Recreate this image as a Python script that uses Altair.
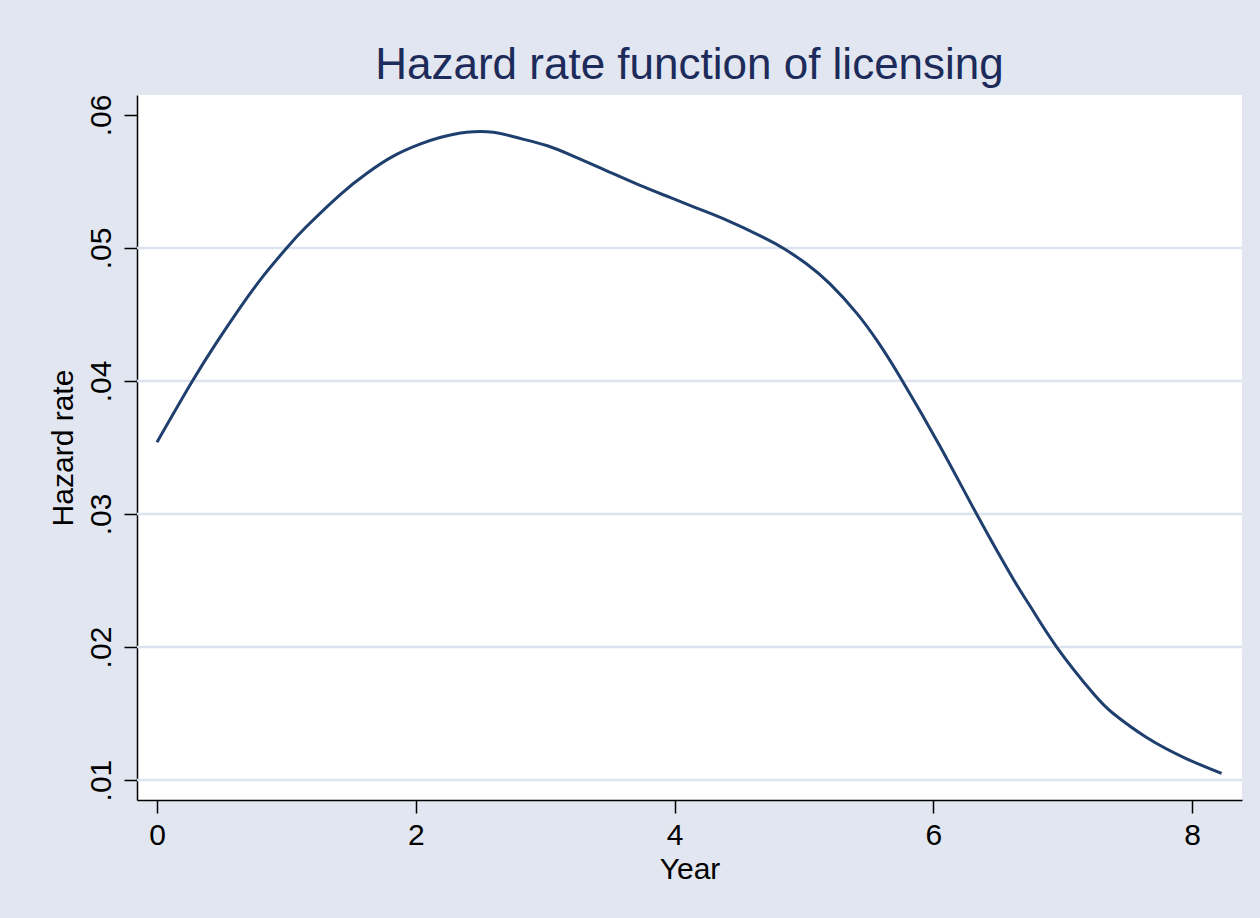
import altair as alt
import pandas as pd

# Hazard rate curve
years = [0.0, 0.268, 0.461, 0.641, 0.822, 1.002, 1.144, 1.414, 1.620, 1.826,
         2.032, 2.187, 2.393, 2.599, 2.780, 3.011, 3.217, 3.475, 3.733, 3.964,
         4.171, 4.376, 4.686, 4.853, 5.021, 5.201, 5.407, 5.574, 5.755, 6.051,
         6.334, 6.618, 6.746, 6.953, 7.236, 7.390, 7.648, 7.957, 8.227]
hazard = [0.0354, 0.0399, 0.0429, 0.0455, 0.0479, 0.0500, 0.0515, 0.0540, 0.0556, 0.0569,
          0.0578, 0.0583, 0.0587, 0.0587, 0.0583, 0.0577, 0.0569, 0.0558, 0.0547, 0.0538,
          0.0530, 0.0522, 0.0508, 0.0499, 0.0488, 0.0473, 0.0451, 0.0429, 0.0401, 0.0351,
          0.0300, 0.0251, 0.0231, 0.0200, 0.0165, 0.0150, 0.0132, 0.0116, 0.0105]

x_ticks = [0, 2, 4, 6, 8]
y_ticks = [0.01, 0.02, 0.03, 0.04, 0.05, 0.06]
grid_values = [0.01, 0.02, 0.03, 0.04, 0.05]

BG = "#E1E6F0"
GRID = "#DDE3EE"
LINE = "#1F3F6E"
TITLE = "#1C2B5A"
FONT = "Liberation Sans"

df = pd.DataFrame({"Year": years, "Hazard": hazard})
grid_df = pd.DataFrame({"Hazard": grid_values})

x_scale = alt.Scale(domain=[-0.1546, 8.385], nice=False, zero=False)
y_scale = alt.Scale(domain=[0.0085, 0.0615], nice=False, zero=False)

x_axis = alt.Axis(values=x_ticks, format="d", grid=False,
                  tickSize=13, tickColor="black", tickWidth=1.5,
                  domainColor="black", domainWidth=1.5,
                  labelFontSize=30, labelColor="black", labelFont=FONT,
                  labelPadding=7, titleFontSize=30, titleFont=FONT,
                  titleColor="black", titleFontWeight="normal",
                  titlePadding=4)

y_axis = alt.Axis(values=y_ticks, grid=False,
                  labelExpr="replace(format(datum.value, '.2f'), '0.', '.')",
                  labelAngle=270, labelAlign="center", labelBaseline="bottom",
                  tickSize=13, tickColor="black", tickWidth=1.5,
                  domainColor="black", domainWidth=1.5,
                  labelFontSize=30, labelColor="black", labelFont=FONT,
                  labelPadding=8, titleFontSize=30, titleFont=FONT,
                  titleColor="black", titleFontWeight="normal",
                  titlePadding=8)

grid = alt.Chart(grid_df).mark_rule(color=GRID, strokeWidth=2.5).encode(
    y=alt.Y("Hazard:Q", scale=y_scale, title="Hazard rate", axis=y_axis)
)

line = alt.Chart(df).mark_line(color=LINE, strokeWidth=3, interpolate="natural").encode(
    x=alt.X("Year:Q", scale=x_scale, title="Year", axis=x_axis),
    y=alt.Y("Hazard:Q", scale=y_scale, title="Hazard rate", axis=y_axis)
)

chart = alt.layer(grid, line).properties(
    width=1105,
    height=705,
    background=BG,
    padding={"left": 137, "top": 95, "right": 18, "bottom": 118},
    autosize=alt.AutoSizeParams(type="none"),
    title=alt.TitleParams(text="Hazard rate function of licensing",
                          fontSize=44, font=FONT, color=TITLE,
                          fontWeight="normal", anchor="middle", offset=6),
).configure_view(fill="white", stroke=None)

chart.save("out.html", embed_options={"renderer": "svg", "actions": False})
